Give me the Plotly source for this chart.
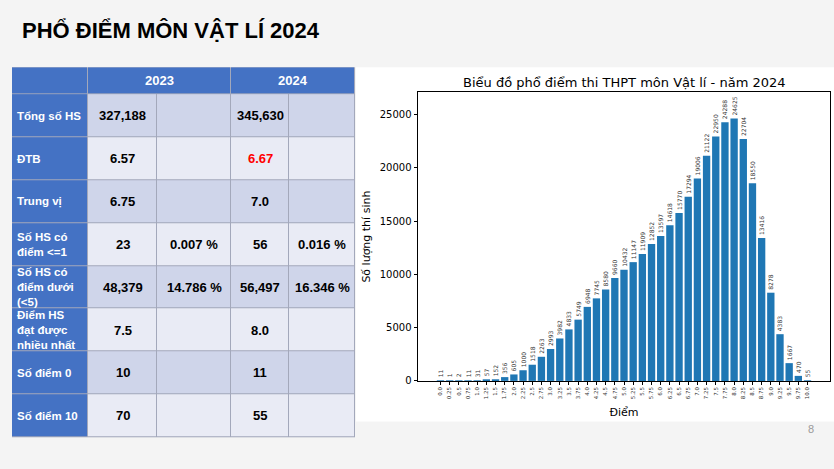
import plotly.graph_objects as go

W, H = 834, 469

# --- du lieu pho diem 2024 ---
diem = ["0.0", "0.25", "0.5", "0.75", "1.0", "1.25", "1.5", "1.75", "2.0", "2.25",
        "2.5", "2.75", "3.0", "3.25", "3.5", "3.75", "4.0", "4.25", "4.5", "4.75",
        "5.0", "5.25", "5.5", "5.75", "6.0", "6.25", "6.5", "6.75", "7.0", "7.25",
        "7.5", "7.75", "8.0", "8.25", "8.5", "8.75", "9.0", "9.25", "9.5", "9.75", "10.0"]
so_luong = [11, 1, 2, 11, 31, 57, 152, 356, 605, 1000,
            1518, 2263, 2993, 3982, 4833, 5749, 6948, 7745, 8580, 9660,
            10432, 11147, 11909, 12852, 13597, 14618, 15770, 17294, 19006, 21122,
            22950, 24288, 24625, 22704, 18550, 13416, 8278, 4383, 1667, 470, 55]

# --- bang so sanh ---
nam = ["2023", "2024"]
chi_tieu = ["Tổng số HS", "ĐTB", "Trung vị", "Số HS có<br>điểm <=1",
            "Số HS có<br>điểm dưới<br>(<5)", "Điểm HS<br>đạt được<br>nhiều nhất",
            "Số điểm 0", "Số điểm 10"]
gia_tri_2023 = ["327,188", "6.57", "6.75", "23", "48,379", "7.5", "10", "70"]
ty_le_2023 = ["", "", "", "0.007 %", "14.786 %", "", "", ""]
gia_tri_2024 = ["345,630", "6.67", "7.0", "56", "56,497", "8.0", "11", "55"]
ty_le_2024 = ["", "", "", "0.016 %", "16.346 %", "", "", ""]

# kich thuoc o (px)
rong_cot = [76, 69, 74, 58, 66]
cao_header = 27
cao_dong = 43

fig = go.Figure()

# bieu do cot
fig.add_trace(go.Bar(
    x=diem, y=so_luong, marker_color="#1f77b4", marker_line_width=0,
    text=[str(v) for v in so_luong], textposition="outside", textangle=-90,
    textfont=dict(size=6, color="#333333", family="DejaVu Sans"),
    constraintext="none", cliponaxis=False, width=0.8,
    xaxis="x", yaxis="y", showlegend=False, hoverinfo="x+y",
))

# bang ve bang heatmap tren truc x2/y2
x_bien = [0]
for w in rong_cot:
    x_bien.append(x_bien[-1] + w)
y_bien = [cao_header]
for _ in chi_tieu:
    y_bien.append(y_bien[-1] + cao_dong)

mau = [[0, "#4472C4"], [0.5, "#CFD5EA"], [1, "#E9EBF5"]]
z_than = [[0] + [1 if i % 2 == 0 else 2] * 4 for i in range(len(chi_tieu))]
fig.add_trace(go.Heatmap(
    x=x_bien, y=y_bien, z=z_than, colorscale=mau, zmin=0, zmax=2, showscale=False,
    xgap=1, ygap=1, hoverinfo="skip", xaxis="x2", yaxis="y2",
))
x_header = [0, x_bien[1], x_bien[3], x_bien[5]]
fig.add_trace(go.Heatmap(
    x=x_header, y=[0, cao_header], z=[[0, 0, 0]], colorscale=mau, zmin=0, zmax=2,
    showscale=False, xgap=1, ygap=1, hoverinfo="skip", xaxis="x2", yaxis="y2",
))

chu = dict(family="Liberation Sans", size=13)
for j, ten in enumerate(nam):
    fig.add_annotation(x=(x_header[j + 1] + x_header[j + 2]) / 2, y=cao_header / 2,
                       xref="x2", yref="y2", text="<b>" + ten + "</b>", showarrow=False,
                       yanchor="middle", font=dict(chu, color="white"))

cot = [chi_tieu, gia_tri_2023, ty_le_2023, gia_tri_2024, ty_le_2024]
for c, vals in enumerate(cot):
    for r, s in enumerate(vals):
        if not s:
            continue
        yc = (y_bien[r] + y_bien[r + 1]) / 2
        if c == 0:
            fig.add_annotation(x=x_bien[0] + 3, y=yc, xref="x2", yref="y2", xanchor="left",
                               yanchor="middle", align="left", text="<b>" + s + "</b>",
                               showarrow=False, font=dict(family="Liberation Sans", size=11.5, color="white"))
        else:
            mau_chu = "red" if (c == 3 and r == 1) else "black"
            fig.add_annotation(x=(x_bien[c] + x_bien[c + 1]) / 2, y=yc, xref="x2", yref="y2",
                               yanchor="middle", text="<b>" + s + "</b>", showarrow=False,
                               font=dict(chu, color=mau_chu))

fig.update_layout(
    width=W, height=H, margin=dict(l=0, r=0, t=0, b=0),
    paper_bgcolor="#f4f4f4", plot_bgcolor="#a3a8bb",
    title=dict(text="<b>PHỔ ĐIỂM MÔN VẬT LÍ 2024</b>", x=22 / W, xanchor="left",
               y=1 - 30 / H, yanchor="middle",
               font=dict(family="Liberation Sans", size=22, color="black")),
    xaxis=dict(domain=[418 / W, 830 / W], type="category", range=[-2.45, 42.45],
               showline=True, mirror=True, linecolor="black", linewidth=1,
               ticks="outside", ticklen=3, tickcolor="black", tickangle=-90,
               tickfont=dict(size=5.5, family="DejaVu Sans", color="#333"),
               showgrid=False, zeroline=False,
               title=dict(text="Điểm", font=dict(size=11, family="DejaVu Sans", color="black"), standoff=9)),
    yaxis=dict(domain=[1 - 385 / H, 1 - 93.3 / H], range=[0, 27087.5],
               showline=True, mirror=True, linecolor="black", linewidth=1,
               ticks="outside", ticklen=3.5, tickcolor="black", tickformat="d",
               tickvals=[0, 5000, 10000, 15000, 20000, 25000],
               tickfont=dict(size=10, family="DejaVu Sans", color="black"),
               showgrid=False, zeroline=False,
               title=dict(text="Số lượng thí sinh", font=dict(size=11, family="DejaVu Sans", color="black"), standoff=6)),
    xaxis2=dict(domain=[12 / W, 355 / W], range=[0, x_bien[-1]], visible=False, fixedrange=True),
    yaxis2=dict(domain=[1 - 442 / H, 1 - 68 / H], range=[y_bien[-1], 0], visible=False, fixedrange=True),
    bargap=0.2,
)

# nen trang cua anh bieu do
fig.add_shape(type="rect", xref="paper", yref="paper", x0=356 / W, x1=1, y0=1 - 426 / H, y1=1 - 68 / H,
              fillcolor="white", line_width=0, layer="below")
fig.add_annotation(x=(418 + 830) / 2 / W, y=1 - 83 / H, xref="paper", yref="paper",
                   xanchor="center", yanchor="middle",
                   text="Biểu đồ phổ điểm thi THPT môn Vật lí - năm 2024", showarrow=False,
                   font=dict(family="DejaVu Sans", size=13, color="black"))
fig.add_annotation(x=811 / W, y=1 - 434 / H, xref="paper", yref="paper",
                   xanchor="center", yanchor="middle", text="8", showarrow=False,
                   font=dict(family="Liberation Sans", size=11, color="#9a9a9a"))

fig.write_html("out.html", config={"displayModeBar": False},
               post_script="document.body.style.margin='0px';")
